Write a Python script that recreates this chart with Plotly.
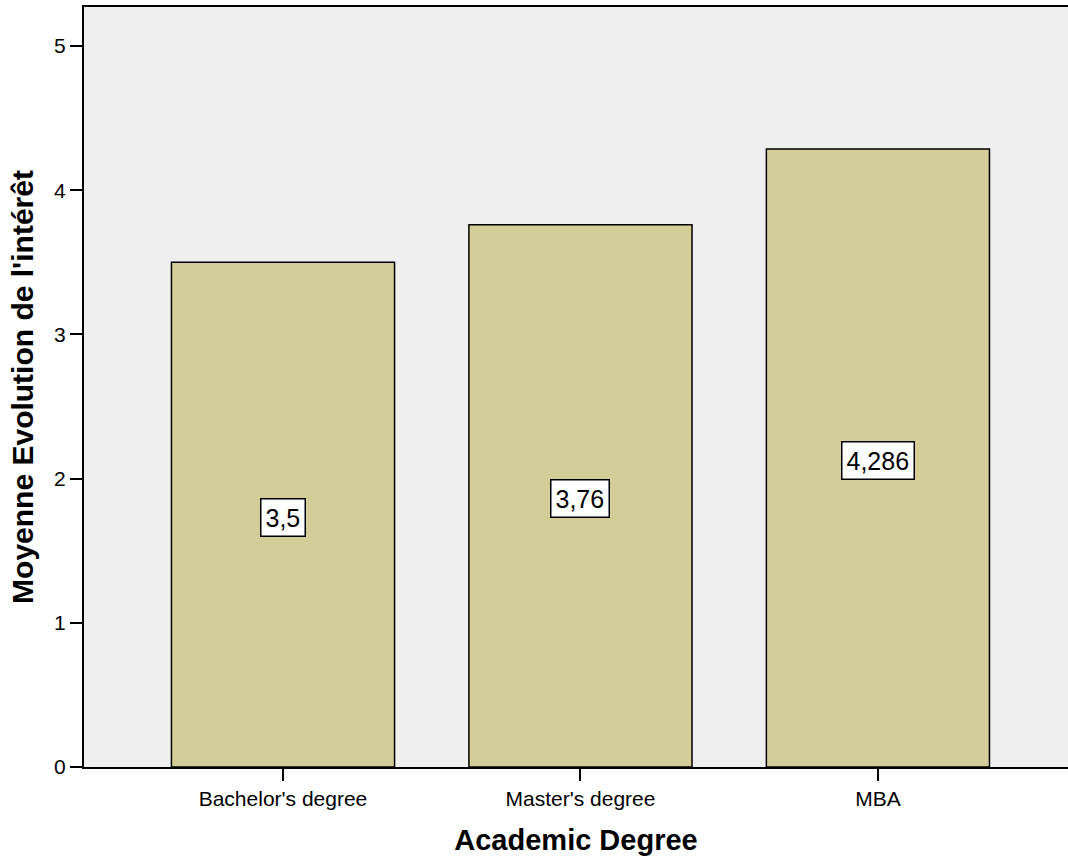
import plotly.graph_objects as go

degrees = ["Bachelor's degree", "Master's degree", "MBA"]
mean_interest = [3.5, 3.76, 4.286]
value_labels = ["3,5", "3,76", "4,286"]
y_ticks = [0, 1, 2, 3, 4, 5]

positions = list(range(len(degrees)))
FONT = "Liberation Sans, Arial, sans-serif"

fig = go.Figure(
    go.Bar(
        x=positions,
        y=mean_interest,
        width=0.75,
        marker=dict(color="#d3ce97", line=dict(color="black", width=1.5)),
        hoverinfo="skip",
    )
)

# value boxes sit halfway up each bar
for xi, v, lab in zip(positions, mean_interest, value_labels):
    fig.add_annotation(
        x=xi, y=v / 2, yshift=-3, text=lab, showarrow=False,
        font=dict(family=FONT, size=25, color="black"),
        bgcolor="white", bordercolor="black", borderwidth=1.5, borderpad=4,
    )

fig.update_layout(
    width=1068, height=858,
    margin=dict(l=84, r=0, t=7, b=91),
    paper_bgcolor="white",
    plot_bgcolor="#efefef",
    showlegend=False,
    font=dict(family=FONT, color="black"),
)

fig.update_xaxes(
    range=[-0.669, 2.639],
    tickmode="array", tickvals=positions, ticktext=degrees,
    showline=True, linecolor="black", linewidth=2, mirror=True,
    ticks="outside", ticklen=12, tickwidth=2, tickcolor="black",
    tickfont=dict(size=21, family=FONT),
    showgrid=False, zeroline=False,
    title=dict(text="<b>Academic Degree</b>", font=dict(size=29, family=FONT), standoff=20),
)

fig.update_yaxes(
    range=[0, 5.27],
    tickmode="array", tickvals=y_ticks,
    showline=True, linecolor="black", linewidth=2,
    ticks="outside", ticklen=12, tickwidth=2, tickcolor="black",
    tickfont=dict(size=21, family=FONT),
    showgrid=False, zeroline=False,
    title=dict(text="<b>Moyenne Evolution de l'intérêt</b>", font=dict(size=30, family=FONT), standoff=12),
)

fig.write_html("out.html")
